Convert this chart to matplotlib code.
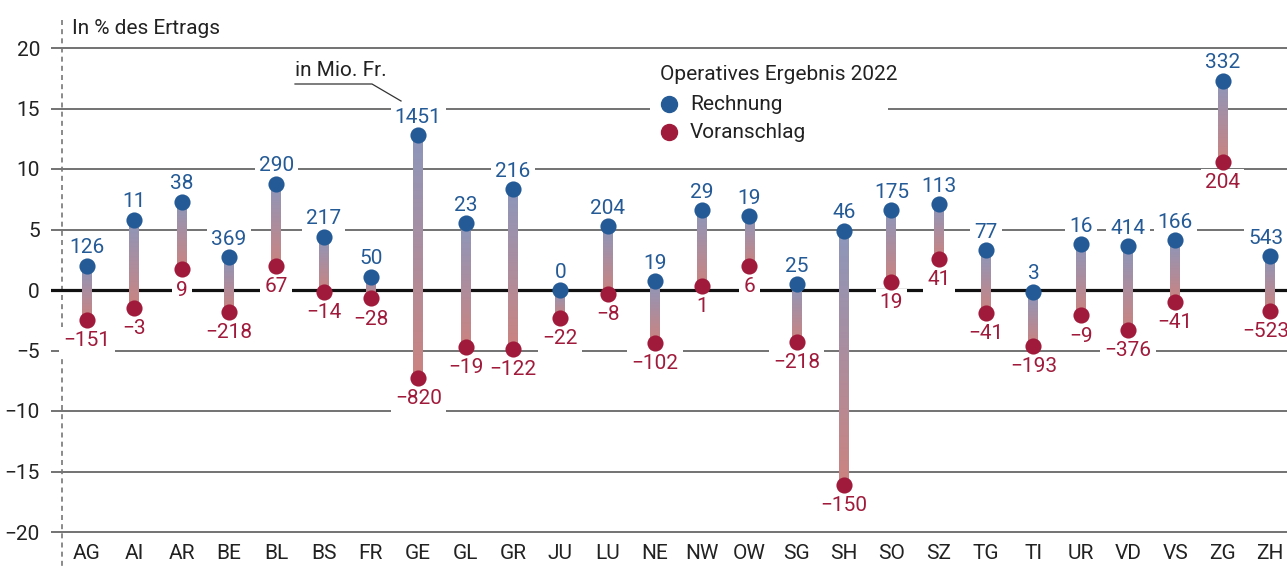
import matplotlib
matplotlib.use("Agg")
import matplotlib.pyplot as plt
import numpy as np
from matplotlib.colors import LinearSegmentedColormap
from matplotlib.patches import Rectangle
from matplotlib.lines import Line2D

plt.rcParams['font.family'] = ['Roboto', 'DejaVu Sans']

# ---------------- data ----------------
cantons = ["AG", "AI", "AR", "BE", "BL", "BS", "FR", "GE", "GL", "GR", "JU", "LU", "NE",
           "NW", "OW", "SG", "SH", "SO", "SZ", "TG", "TI", "UR", "VD", "VS", "ZG", "ZH"]
rechnung_pct = [2.0, 5.8, 7.3, 2.7, 8.8, 4.4, 1.1, 12.8, 5.5, 8.35, 0.0, 5.3, 0.75,
                6.6, 6.1, 0.5, 4.9, 6.6, 7.1, 3.3, -0.15, 3.8, 3.6, 4.1, 17.3, 2.8]
voranschlag_pct = [-2.5, -1.5, 1.7, -1.8, 2.0, -0.15, -0.7, -7.3, -4.7, -4.9, -2.3, -0.3, -4.4,
                   0.35, 2.0, -4.3, -16.1, 0.65, 2.6, -1.9, -4.6, -2.1, -3.3, -1.0, 10.6, -1.7]
rechnung_mio = [126, 11, 38, 369, 290, 217, 50, 1451, 23, 216, 0, 204, 19,
                29, 19, 25, 46, 175, 113, 77, 3, 16, 414, 166, 332, 543]
voranschlag_mio = [-151, -3, 9, -218, 67, -14, -28, -820, -19, -122, -22, -8, -102,
                   1, 6, -218, -150, 19, 41, -41, -193, -9, -376, -41, 204, -523]
yticks = [20, 15, 10, 5, 0, -5, -10, -15, -20]

# ---------------- style ----------------
BLUE = "#245a96"
RED = "#a01b3b"
TXT = "#222222"
GRID = "#5a5a5a"
FS = 15

W, H = 1287, 566
fig = plt.figure(figsize=(W / 100, H / 100), dpi=100)
left_px, top_px, bottom_px = 51, 10, 540
ax = fig.add_axes([left_px / W, (H - bottom_px) / H, 1 - left_px / W, (bottom_px - top_px) / H])

scale = 12.1
zero_px = 290
ylim = ((zero_px - bottom_px) / scale, (zero_px - top_px) / scale)
xstep = 47.3
xlim = (-(87 - left_px) / xstep, 25 + (W - 1270) / xstep)


def fmt(v):
    return str(v).replace("-", "\u2212")


def fx(px):
    return px / W


def fy(py):
    return 1 - py / H


# gridlines
for t in yticks:
    if t == 0:
        continue
    ax.axhline(t, color=GRID, lw=1.2, zorder=1)
ax.axhline(0, color="#111111", lw=2.3, zorder=1.5)

# dashed vertical axis line
xd = -(87 - 62) / xstep
ax.plot([xd, xd], [(zero_px - 20) / scale, (zero_px - 566) / scale], ls=(0, (3, 2.5)),
        color="#777777", lw=1.2, clip_on=False, zorder=1)

# gradient stems
cmap = LinearSegmentedColormap.from_list("stem", ["#8c97bc", "#cc837f"])
grad = np.linspace(0, 1, 256).reshape(-1, 1)
hw = 0.105
for i, (r, v) in enumerate(zip(rechnung_pct, voranschlag_pct)):
    top, bot = max(r, v), min(r, v)
    g = grad if r >= v else grad[::-1]
    ax.imshow(g, cmap=cmap, extent=(i - hw, i + hw, bot, top), origin="upper",
              aspect="auto", interpolation="bilinear", zorder=2)

x = np.arange(len(cantons))
ax.scatter(x, rechnung_pct, s=135, color=BLUE, zorder=4, linewidths=0)
ax.scatter(x, voranschlag_pct, s=135, color=RED, zorder=4, linewidths=0)

bb = dict(facecolor="white", edgecolor="none", pad=3)
n = len(cantons)
for i in range(n):
    r, v = rechnung_pct[i], voranschlag_pct[i]
    up_r = r >= v
    dx = -3 if i == n - 1 else 0
    ax.annotate(fmt(rechnung_mio[i]), (i, r), xytext=(dx, 6 if up_r else -8),
                textcoords="offset points", ha="center", va="bottom" if up_r else "top",
                color=BLUE, fontsize=FS, bbox=bb, zorder=3)
    ax.annotate(fmt(voranschlag_mio[i]), (i, v), xytext=(dx, -8 if up_r else 6),
                textcoords="offset points", ha="center", va="top" if up_r else "bottom",
                color=RED, fontsize=FS, bbox=bb, zorder=3)

ax.set_xlim(*xlim)
ax.set_ylim(*ylim)
ax.set_yticks(yticks, [fmt(t) for t in yticks])
ax.set_xticks(x, cantons)
ax.tick_params(axis="y", length=0, pad=8, labelsize=FS, labelcolor=TXT)
ax.tick_params(axis="x", length=0, pad=3, labelsize=FS, labelcolor=TXT)
for s in ax.spines.values():
    s.set_visible(False)
ax.patch.set_alpha(0)

# title
fig.text(fx(72), fy(28), "In % des Ertrags", ha="left", va="center", fontsize=FS, color=TXT)

# unit annotation
fig.text(fx(295), fy(71), "in Mio. Fr.", ha="left", va="center", fontsize=FS, color=TXT)
fig.add_artist(Line2D([fx(295), fx(372), fx(401)], [fy(84), fy(84), fy(101)],
                      color="#333333", lw=0.9))

# legend
fig.add_artist(Rectangle((fx(650), fy(146)), fx(888) - fx(650), fy(60) - fy(146),
                         facecolor="white", edgecolor="none", zorder=5))
fig.text(fx(660), fy(74), "Operatives Ergebnis 2022", ha="left", va="center",
         fontsize=FS, color=TXT, zorder=6)
for py, col, lab in [(104, BLUE, "Rechnung"), (132, RED, "Voranschlag")]:
    fig.add_artist(Line2D([fx(669)], [fy(py)], marker="o", markersize=11.5, color=col,
                          linestyle="none", zorder=6))
    fig.text(fx(690), fy(py), lab, ha="left", va="center", fontsize=FS, color=TXT, zorder=6)

fig.savefig("out.png", dpi=100)
